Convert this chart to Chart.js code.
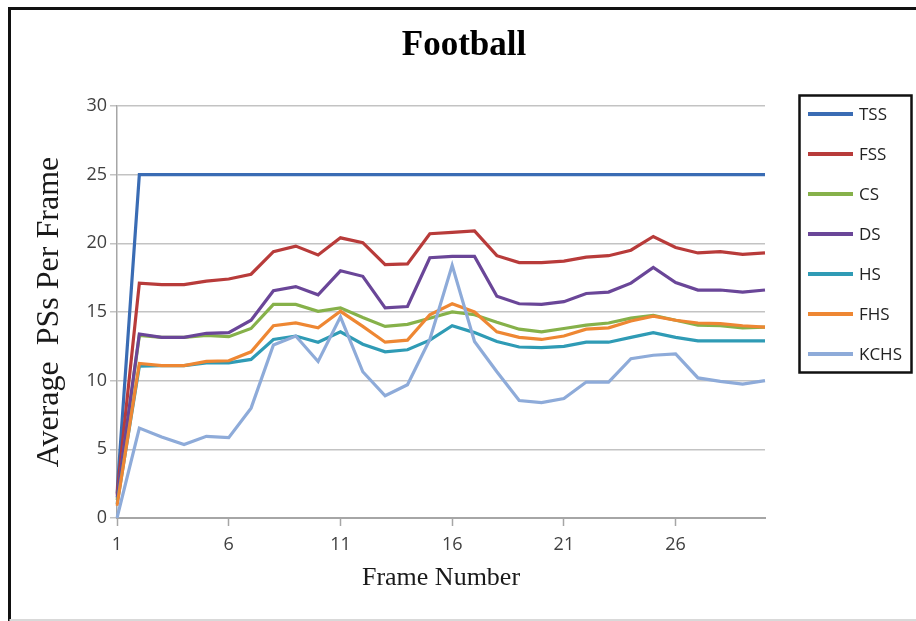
<!DOCTYPE html>
<html>
<head>
<meta charset="utf-8">
<title>Football</title>
<script src="https://cdn.jsdelivr.net/npm/chart.js@4.4.1/dist/chart.umd.min.js"></script>
<style>
  html, body { margin: 0; padding: 0; background: #ffffff; }
  #wrap { position: relative; width: 916px; height: 621px; }
  canvas { display: block; }
</style>
</head>
<body>
<div id="wrap"><canvas id="chart" width="916" height="621"></canvas></div>
<script>
// Frame numbers along the x axis
const frames = ['1','2','3','4','5','6','7','8','9','10','11','12','13','14','15',
                '16','17','18','19','20','21','22','23','24','25','26','27','28','29','30'];

// Average PSs per frame for each scheme
const tss  = [1.8, 25, 25, 25, 25, 25, 25, 25, 25, 25, 25, 25, 25, 25, 25,
              25, 25, 25, 25, 25, 25, 25, 25, 25, 25, 25, 25, 25, 25, 25];
const fss  = [1.7, 17.1, 17.0, 17.0, 17.25, 17.4, 17.75, 19.4, 19.8, 19.15, 20.4, 20.05, 18.45, 18.5, 20.7,
              20.8, 20.9, 19.1, 18.6, 18.6, 18.7, 19.0, 19.1, 19.5, 20.5, 19.7, 19.3, 19.4, 19.2, 19.3];
const cs   = [1.3, 13.3, 13.15, 13.15, 13.3, 13.2, 13.8, 15.55, 15.55, 15.05, 15.3, 14.6, 13.95, 14.1, 14.55,
              15.0, 14.8, 14.25, 13.75, 13.55, 13.8, 14.05, 14.2, 14.55, 14.75, 14.4, 14.05, 14.0, 13.85, 13.9];
const ds   = [1.5, 13.4, 13.15, 13.15, 13.45, 13.5, 14.4, 16.55, 16.85, 16.25, 18.0, 17.6, 15.3, 15.4, 18.95,
              19.05, 19.05, 16.15, 15.6, 15.55, 15.75, 16.35, 16.45, 17.1, 18.25, 17.15, 16.6, 16.6, 16.45, 16.6];
const hs   = [1.0, 11.05, 11.1, 11.1, 11.3, 11.3, 11.55, 13.0, 13.25, 12.8, 13.55, 12.65, 12.1, 12.25, 12.95,
              14.0, 13.5, 12.85, 12.45, 12.4, 12.5, 12.8, 12.8, 13.15, 13.5, 13.15, 12.9, 12.9, 12.9, 12.9];
const fhs  = [0.9, 11.25, 11.1, 11.1, 11.4, 11.45, 12.1, 14.0, 14.2, 13.85, 15.05, 13.95, 12.8, 12.95, 14.8,
              15.6, 15.0, 13.55, 13.15, 13.0, 13.25, 13.75, 13.85, 14.35, 14.7, 14.4, 14.2, 14.15, 14.0, 13.9];
const kchs = [0, 6.55, 5.9, 5.35, 5.95, 5.85, 8.0, 12.6, 13.25, 11.4, 14.65, 10.65, 8.9, 9.7, 13.0,
              18.4, 12.85, 10.65, 8.55, 8.4, 8.7, 9.9, 9.9, 11.6, 11.85, 11.95, 10.2, 9.95, 9.75, 10.0];

const seriesNames = ['TSS', 'FSS', 'CS', 'DS', 'HS', 'FHS', 'KCHS'];
const seriesData  = [tss, fss, cs, ds, hs, fhs, kchs];
const seriesColors = ['#3a6cb4', '#b83b3a', '#86b14a', '#6a4698', '#2f9bb5', '#ee8733', '#8eabd9'];

const datasets = seriesNames.map((name, i) => ({
  label: name,
  data: seriesData[i],
  borderColor: seriesColors[i],
  backgroundColor: seriesColors[i],
  borderWidth: 3.2,
  pointRadius: 0,
  tension: 0,
  fill: false,
  yAxisID: 'y',
  // later series are painted over earlier ones
  order: seriesNames.length - i
}));

// White background plus the outer frame around the whole figure
const framePlugin = {
  id: 'frame',
  beforeDraw(chart) {
    const ctx = chart.ctx;
    ctx.save();
    ctx.fillStyle = '#ffffff';
    ctx.fillRect(0, 0, chart.width, chart.height);
    ctx.restore();
  },
  afterDraw(chart) {
    const ctx = chart.ctx;
    ctx.save();
    ctx.strokeStyle = '#111111';
    ctx.lineWidth = 3;
    ctx.beginPath();
    ctx.moveTo(9.5, 621);
    ctx.lineTo(9.5, 8.5);
    ctx.lineTo(916, 8.5);
    ctx.stroke();
    ctx.strokeStyle = '#d9d9d9';
    ctx.lineWidth = 2;
    ctx.beginPath();
    ctx.moveTo(9.5, 620);
    ctx.lineTo(916, 620);
    ctx.stroke();
    ctx.restore();
  }
};

// Boxed legend on the right, built from the chart's datasets
const boxLegendPlugin = {
  id: 'boxLegend',
  afterDraw(chart, args, opts) {
    const ctx = chart.ctx;
    ctx.save();
    ctx.strokeStyle = '#111111';
    ctx.lineWidth = 2.5;
    ctx.strokeRect(opts.left, opts.top, opts.width, opts.height);
    ctx.font = opts.font;
    ctx.textBaseline = 'middle';
    ctx.textAlign = 'left';
    chart.data.datasets.forEach((ds, i) => {
      const y = opts.firstRow + i * opts.rowStep;
      ctx.strokeStyle = ds.borderColor;
      ctx.lineWidth = 4;
      ctx.beginPath();
      ctx.moveTo(opts.lineX0, y);
      ctx.lineTo(opts.lineX1, y);
      ctx.stroke();
      ctx.fillStyle = '#222222';
      ctx.fillText(ds.label, opts.textX, y + 1);
    });
    ctx.restore();
  }
};

const gridGray = '#c3c3c3';

new Chart(document.getElementById('chart'), {
  type: 'line',
  data: { labels: frames, datasets },
  plugins: [framePlugin, boxLegendPlugin],
  options: {
    responsive: false,
    animation: false,
    events: [],
    layout: { padding: { left: 12, top: 9, right: 0, bottom: 23 } },
    plugins: {
      legend: { display: false },
      tooltip: { enabled: false },
      title: {
        display: true,
        text: 'Football',
        color: '#000000',
        font: { family: 'Liberation Serif', size: 35, weight: 'bold', lineHeight: 1.2 },
        padding: { top: 16, bottom: 39 }
      },
      boxLegend: {
        left: 799.5, top: 95.5, width: 112, height: 277,
        lineX0: 808, lineX1: 853, textX: 859,
        firstRow: 114, rowStep: 40,
        font: '17px "Open Sans"'
      }
    },
    scales: {
      x: {
        type: 'category',
        offset: false,
        afterFit(scale) { scale.height = 80; },
        grid: {
          drawOnChartArea: false,
          drawTicks: true,
          tickLength: 8,
          tickWidth: 1.5,
          tickColor: (c) => (c.index % 5 === 0 ? '#a6a6a6' : 'rgba(0,0,0,0)')
        },
        border: { display: true, color: '#a6a6a6', width: 2 },
        ticks: {
          autoSkip: false,
          maxRotation: 0,
          padding: 8,
          color: '#404040',
          font: { family: 'Open Sans', size: 18 },
          callback: function (value, index) {
            return index % 5 === 0 ? this.getLabelForValue(value) : '';
          }
        },
        title: {
          display: true,
          text: 'Frame Number',
          color: '#1a1a1a',
          font: { family: 'Liberation Serif', size: 26, lineHeight: 1.2 },
          padding: { top: 0, bottom: 4 }
        }
      },
      y: {
        position: 'left',
        min: 0,
        max: 30,
        afterFit(scale) { scale.width = 105; },
        ticks: {
          stepSize: 5,
          padding: 3,
          color: '#404040',
          font: { family: 'Open Sans', size: 18 }
        },
        grid: {
          color: gridGray,
          lineWidth: 1.5,
          drawTicks: true,
          tickLength: 7,
          tickColor: gridGray
        },
        border: { display: true, color: '#a6a6a6', width: 1.5 },
        title: {
          display: true,
          text: 'Average  PSs Per Frame',
          color: '#1a1a1a',
          font: { family: 'Liberation Serif', size: 32, lineHeight: 1.2 },
          padding: { top: 18, bottom: 0 }
        }
      },
      // empty right-hand band that holds the legend column
      side: {
        position: 'right',
        min: 0,
        max: 30,
        afterFit(scale) { scale.width = 151; },
        grid: { display: false, drawOnChartArea: false },
        border: { display: false },
        ticks: { display: false }
      }
    }
  }
});
</script>
</body>
</html>
